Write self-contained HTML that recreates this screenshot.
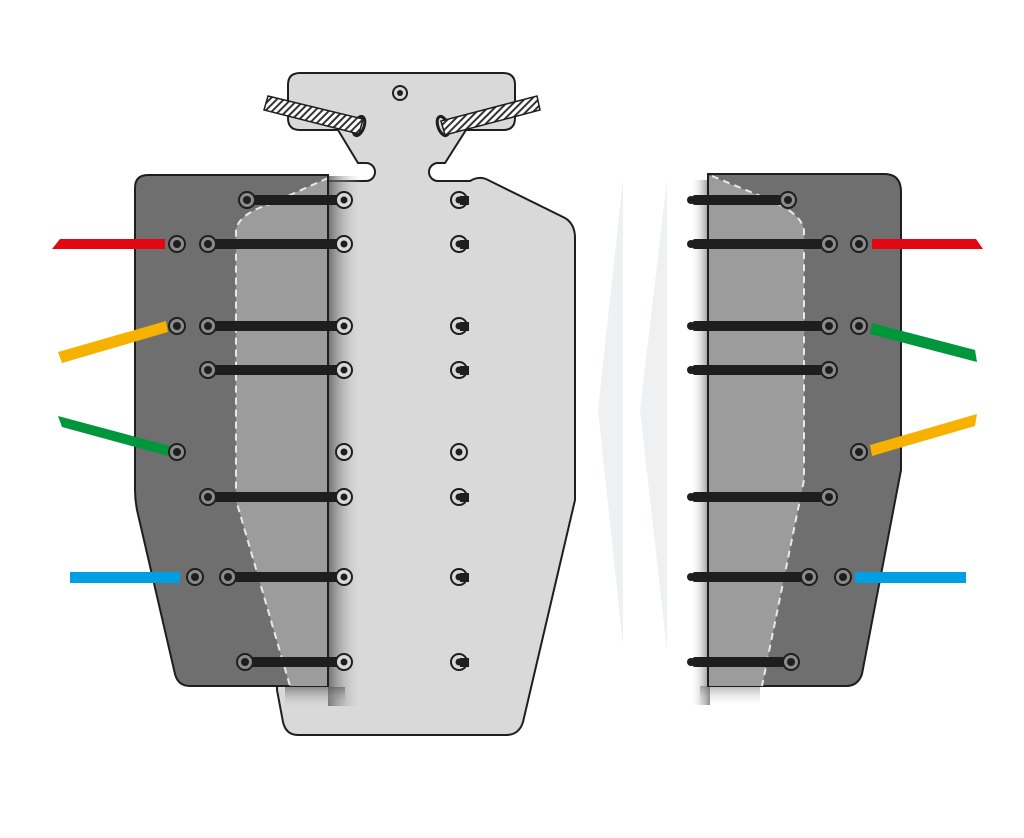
<!DOCTYPE html>
<html><head><meta charset="utf-8"><style>html,body{margin:0;padding:0;background:#fff}svg{display:block}</style></head>
<body>
<svg width="1024" height="838" viewBox="0 0 1024 838" xmlns="http://www.w3.org/2000/svg">
<defs>
<pattern id="h" width="5" height="5" patternUnits="userSpaceOnUse" patternTransform="rotate(45)">
<rect width="5" height="5" fill="#fff"/><rect width="2" height="5" fill="#333"/></pattern>
<linearGradient id="shL" x1="0" x2="1"><stop offset="0" stop-color="#555" stop-opacity=".8"/><stop offset="1" stop-color="#d9d9d9" stop-opacity="0"/></linearGradient>
<linearGradient id="shR" x1="1" x2="0"><stop offset="0" stop-color="#555" stop-opacity=".7"/><stop offset="1" stop-color="#fff" stop-opacity="0"/></linearGradient>
<linearGradient id="shB" x1="0" y1="0" x2="0" y2="1"><stop offset="0" stop-color="#555" stop-opacity=".6"/><stop offset="1" stop-color="#d9d9d9" stop-opacity="0"/></linearGradient>
<g id="s"><circle r="8" fill="#8a8a8a" stroke="#1e1e1e" stroke-width="2"/><circle r="4" fill="#1e1e1e"/></g>
<g id="sp"><circle r="8" fill="#d9d9d9" stroke="#1e1e1e" stroke-width="2"/><circle r="3.5" fill="#1e1e1e"/></g>
</defs>
<polygon points="623,180 598,410 623,645" fill="#eef0f2"/>
<polygon points="667,180 640,410 667,650" fill="#eef0f2"/>

<path d="M300,73 H503 Q515,73 515,85 V118 Q515,130 503,130 H466 L445,163 H438 A9 9 0 0 0 438,181 H470 Q478,176 486,179 L565,218 Q575,224 575,238 V500 L523,722 Q519,735 506,735 H298 Q286,735 283,722 L277,690 V181 H366 A9 9 0 0 0 366,163 H358 L338,130 H300 Q288,130 288,118 V85 Q288,73 300,73 Z" fill="#d9d9d9" stroke="#1e1e1e" stroke-width="2"/>
<rect x="328" y="176" width="34" height="530" fill="url(#shL)"/>
<rect x="285" y="687" width="60" height="22" fill="url(#shB)"/>
<circle cx="400" cy="93" r="7" fill="#d9d9d9" stroke="#1e1e1e" stroke-width="2"/><circle cx="400" cy="93" r="3" fill="#1e1e1e"/>
<ellipse cx="359" cy="126" rx="5" ry="10" transform="rotate(20 359 126)" fill="#d9d9d9" stroke="#1e1e1e" stroke-width="3"/>
<ellipse cx="443" cy="126" rx="5" ry="10" transform="rotate(-20 443 126)" fill="#d9d9d9" stroke="#1e1e1e" stroke-width="3"/>
<polygon points="268,96 363,119 359,134 264,110" fill="url(#h)" stroke="#1e1e1e" stroke-width="1.5"/>
<polygon points="537,96 540,110 445,135 441,121" fill="url(#h)" stroke="#1e1e1e" stroke-width="1.5"/>

<path d="M148,175 H328 V686 H190 Q178,686 175,674 L137,510 Q135,500 135,490 V188 Q135,175 148,175 Z" fill="#6f6f6f" stroke="#1e1e1e" stroke-width="2"/>
<path d="M328,178 L270,204 Q236,215 236,232 V500 L290,686 H328 Z" fill="#9c9c9c"/>
<path d="M328,178 L270,204 Q236,215 236,232 V500 L290,686" fill="none" stroke="#e8e8e8" stroke-width="2" stroke-dasharray="7 5"/>
<line x1="328" y1="175" x2="328" y2="686" stroke="#1e1e1e" stroke-width="2"/>

<rect x="690" y="180" width="20" height="525" fill="url(#shR)"/>
<rect x="700" y="686" width="60" height="20" fill="url(#shB)" opacity=".7"/>
<path d="M708,174 H884 Q901,174 901,192 V470 L862,674 Q858,686 846,686 H708 Z" fill="#6f6f6f" stroke="#1e1e1e" stroke-width="2"/>
<path d="M710,176 L770,200 Q804,215 804,232 V480 L762,686 H709 V176 Z" fill="#9c9c9c"/>
<path d="M712,176 L770,200 Q804,215 804,232 V480 L762,686" fill="none" stroke="#e8e8e8" stroke-width="2" stroke-dasharray="7 5"/>
<line x1="708" y1="174" x2="708" y2="686" stroke="#1e1e1e" stroke-width="2"/>

<polygon points="60,239 165,239 165,249 52,249" fill="#e30613"/>
<polygon points="58,352 166,321 168,332 62,363" fill="#f7b100"/>
<polygon points="58,416 170,446 168,456 62,427" fill="#00963c"/>
<rect x="70" y="572" width="110" height="11" fill="#009fe3"/>
<polygon points="872,239 976,239 983,249 872,249" fill="#e30613"/>
<polygon points="872,323 975,350 977,362 870,334" fill="#00963c"/>
<polygon points="870,445 977,414 975,426 872,456" fill="#f7b100"/>
<rect x="855" y="572" width="111" height="11" fill="#009fe3"/>

<g fill="#1e1e1e">
<rect x="253" y="195" width="84" height="10"/>
<rect x="214" y="239" width="123" height="10"/>
<rect x="214" y="321" width="123" height="10"/>
<rect x="214" y="365" width="123" height="10"/>
<rect x="214" y="492" width="123" height="10"/>
<rect x="234" y="572" width="103" height="10"/>
<rect x="251" y="657" width="86" height="10"/>
</g>
<g>
<use href="#s" x="247" y="200"/><use href="#s" x="177" y="244"/><use href="#s" x="208" y="244"/>
<use href="#s" x="177" y="326"/><use href="#s" x="208" y="326"/><use href="#s" x="208" y="370"/>
<use href="#s" x="177" y="452"/><use href="#s" x="208" y="497"/>
<use href="#s" x="195" y="577"/><use href="#s" x="228" y="577"/><use href="#s" x="245" y="662"/>
</g>
<g>
<use href="#sp" x="344" y="200"/><use href="#sp" x="344" y="244"/><use href="#sp" x="344" y="326"/><use href="#sp" x="344" y="370"/><use href="#sp" x="344" y="452"/><use href="#sp" x="344" y="497"/><use href="#sp" x="344" y="577"/><use href="#sp" x="344" y="662"/>
<use href="#sp" x="459" y="200"/><use href="#sp" x="459" y="244"/><use href="#sp" x="459" y="326"/><use href="#sp" x="459" y="370"/><use href="#sp" x="459" y="452"/><use href="#sp" x="459" y="497"/><use href="#sp" x="459" y="577"/><use href="#sp" x="459" y="662"/>
</g>
<g fill="#1e1e1e">
<rect x="460" y="196" width="9" height="9"/><rect x="460" y="240" width="9" height="9"/><rect x="460" y="322" width="9" height="9"/><rect x="460" y="366" width="9" height="9"/><rect x="460" y="493" width="9" height="9"/><rect x="460" y="573" width="9" height="9"/><rect x="460" y="658" width="9" height="9"/>
</g>

<g fill="#1e1e1e">
<rect x="692" y="195" width="90" height="10" rx="3"/>
<rect x="692" y="239" width="131" height="10" rx="3"/>
<rect x="692" y="321" width="131" height="10" rx="3"/>
<rect x="692" y="365" width="131" height="10" rx="3"/>
<rect x="692" y="492" width="131" height="10" rx="3"/>
<rect x="692" y="572" width="111" height="10" rx="3"/>
<rect x="692" y="657" width="93" height="10" rx="3"/>
<circle cx="691" cy="200" r="4"/><circle cx="691" cy="244" r="4"/><circle cx="691" cy="326" r="4"/><circle cx="691" cy="370" r="4"/><circle cx="691" cy="497" r="4"/><circle cx="691" cy="577" r="4"/><circle cx="691" cy="662" r="4"/>
</g>
<g>
<use href="#s" x="788" y="200"/><use href="#s" x="829" y="244"/><use href="#s" x="859" y="244"/>
<use href="#s" x="829" y="326"/><use href="#s" x="859" y="326"/><use href="#s" x="829" y="370"/>
<use href="#s" x="859" y="452"/><use href="#s" x="829" y="497"/>
<use href="#s" x="809" y="577"/><use href="#s" x="843" y="577"/><use href="#s" x="791" y="662"/>
</g>
</svg>
</body></html>
